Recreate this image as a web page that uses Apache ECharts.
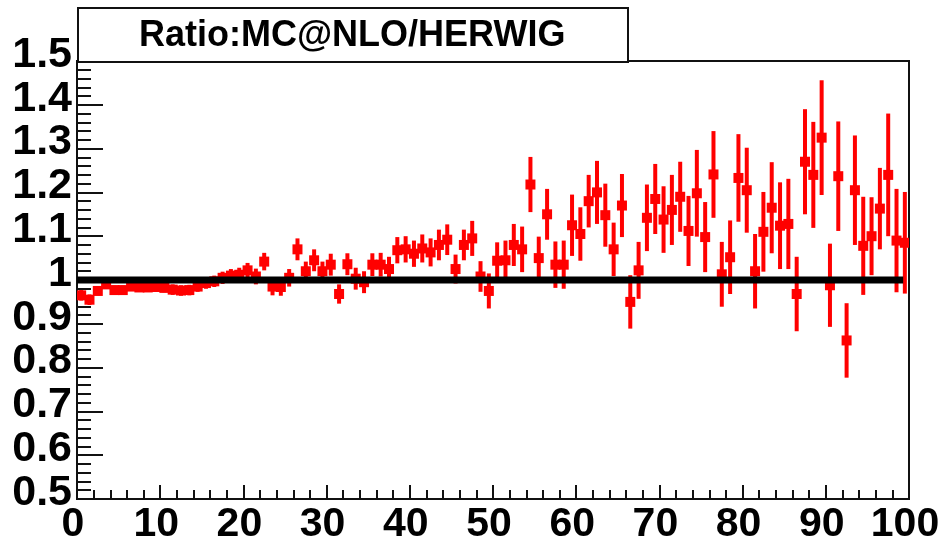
<!DOCTYPE html>
<html>
<head>
<meta charset="utf-8">
<script src="https://cdn.jsdelivr.net/npm/echarts@6/dist/echarts.min.js"></script>
<style>
html,body{margin:0;padding:0;background:#fff;}
#chart{width:942px;height:548px;}
</style>
</head>
<body>
<div id="chart"></div>
<script>
// ---- data ----
const titleText = "Ratio:MC@NLO/HERWIG";
const binCenters = [0.5,1.5,2.5,3.5,4.5,5.5,6.5,7.5,8.5,9.5,10.5,11.5,12.5,13.5,14.5,15.5,16.5,17.5,18.5,19.5,
20.5,21.5,22.5,23.5,24.5,25.5,26.5,27.5,28.5,29.5,30.5,31.5,32.5,33.5,34.5,35.5,36.5,37.5,38.5,39.5,
40.5,41.5,42.5,43.5,44.5,45.5,46.5,47.5,48.5,49.5,50.5,51.5,52.5,53.5,54.5,55.5,56.5,57.5,58.5,59.5,
60.5,61.5,62.5,63.5,64.5,65.5,66.5,67.5,68.5,69.5,70.5,71.5,72.5,73.5,74.5,75.5,76.5,77.5,78.5,79.5,
80.5,81.5,82.5,83.5,84.5,85.5,86.5,87.5,88.5,89.5,90.5,91.5,92.5,93.5,94.5,95.5,96.5,97.5,98.5,99.5];
const ratio = [0.965,0.955,0.975,0.99,0.977,0.977,0.985,0.983,0.983,0.984,0.982,0.978,0.976,0.977,0.985,0.993,0.997,1.005,1.01,1.012,
1.022,1.008,1.042,0.985,0.984,1.005,1.07,1.02,1.045,1.02,1.035,0.968,1.036,1.003,0.995,1.035,1.035,1.025,1.068,1.07,
1.06,1.072,1.063,1.08,1.092,1.025,1.08,1.095,1.008,0.975,1.044,1.045,1.08,1.07,1.218,1.05,1.15,1.035,1.035,1.125,
1.105,1.18,1.2,1.148,1.07,1.17,0.95,1.022,1.142,1.185,1.138,1.16,1.19,1.112,1.198,1.098,1.241,1.013,1.052,1.233,
1.205,1.02,1.11,1.165,1.124,1.128,0.968,1.27,1.24,1.325,0.988,1.237,0.862,1.205,1.078,1.1,1.163,1.24,1.09,1.085];
const ratioErr = [0.012,0.012,0.01,0.01,0.01,0.01,0.01,0.01,0.01,0.01,0.01,0.012,0.012,0.012,0.012,0.013,0.013,0.014,0.015,0.016,
0.017,0.018,0.02,0.02,0.02,0.02,0.025,0.022,0.025,0.022,0.025,0.022,0.025,0.025,0.025,0.026,0.027,0.028,0.03,0.03,
0.03,0.032,0.032,0.035,0.035,0.033,0.035,0.04,0.035,0.04,0.042,0.045,0.048,0.052,0.063,0.049,0.058,0.053,0.055,0.07,
0.061,0.06,0.072,0.072,0.061,0.072,0.061,0.065,0.076,0.08,0.076,0.08,0.08,0.08,0.099,0.08,0.099,0.074,0.084,0.1,
0.097,0.085,0.091,0.104,0.099,0.103,0.085,0.12,0.121,0.131,0.095,0.125,0.085,0.125,0.112,0.089,0.093,0.14,0.118,0.116];
const refLineX = [0, 99.3];
const refLineY = [1, 1];

const labelFont = '"Liberation Sans", Arial, sans-serif';

const points = binCenters.map((x, i) => [x, ratio[i], ratioErr[i]]);
const lineData = refLineX.map((x, i) => [x, refLineY[i]]);

// measure title to centre it in its box
const tw = (function(){const c=document.createElement('canvas').getContext('2d'); c.font='bold 36px "Liberation Sans", Arial, sans-serif'; return c.measureText(titleText).width;})();

const chart = echarts.init(document.getElementById('chart'), null, {renderer: 'canvas'});
chart.setOption({
  animation: false,
  backgroundColor: '#ffffff',
  grid: {left: 77, top: 61, width: 832, height: 438, show: true, borderColor: '#111', borderWidth: 2,
    backgroundColor: 'transparent', containLabel: false, outerBoundsMode: 'none'},
  xAxis: {
    type: 'value', min: 0, max: 100, interval: 10,
    axisLine: {show: true, onZero: false, lineStyle: {color: '#111', width: 2}},
    axisTick: {show: true, inside: true, length: 14, lineStyle: {color: '#111', width: 2}},
    minorTick: {show: true, splitNumber: 5, length: 9, lineStyle: {color: '#111', width: 2}},
    splitLine: {show: false},
    axisLabel: {color: '#000', fontWeight: 'bold', fontFamily: labelFont, fontSize: 41, margin: 4, lineHeight: 44,
      padding: [0, 8, 0, 0], showMaxLabel: true, showMinLabel: true, hideOverlap: false}
  },
  yAxis: {
    type: 'value', min: 0.5, max: 1.5, interval: 0.1,
    axisLine: {show: true, onZero: false, lineStyle: {color: '#111', width: 2}},
    axisTick: {show: true, inside: true, length: 26, lineStyle: {color: '#111', width: 2}},
    minorTick: {show: true, splitNumber: 5, length: 14, lineStyle: {color: '#111', width: 2}},
    splitLine: {show: false},
    axisLabel: {color: '#000', fontWeight: 'bold', fontFamily: labelFont, fontSize: 43, margin: 5,
      verticalAlign: 'bottom', lineHeight: 12,
      hideOverlap: false, formatter: v => String(+v.toFixed(1))}
  },
  graphic: [
    {type: 'rect', left: 77, top: 7, shape: {width: 550, height: 54}, style: {fill: '#fff', stroke: '#111', lineWidth: 2}, z: 10},
    {type: 'text', left: Math.round(77 + 275 - tw / 2), top: 18,
      style: {text: titleText, fontSize: 36, fontWeight: 'bold', fontFamily: '"Liberation Sans", Arial, sans-serif', fill: '#000'}, z: 11}
  ],
  series: [
    {
      type: 'custom',
      name: 'ratio',
      data: points,
      clip: true,
      z: 2,
      renderItem: function (params, api) {
        const x = api.value(0), y = api.value(1), e = api.value(2);
        const c = api.coord([x, y]);
        const top = api.coord([x, y + e]);
        const bot = api.coord([x, y - e]);
        const hw = api.size([0.5, 0])[0];
        const red = '#ff0000';
        return {
          type: 'group',
          children: [
            {type: 'rect', shape: {x: c[0] - 2, y: top[1], width: 4, height: bot[1] - top[1]}, style: {fill: red}},
            {type: 'rect', shape: {x: c[0] - hw, y: c[1] - 2, width: 2 * hw, height: 4}, style: {fill: red}},
            {type: 'rect', shape: {x: c[0] - 5, y: c[1] - 5, width: 10, height: 10}, style: {fill: red}}
          ]
        };
      }
    },
    {
      type: 'line',
      name: 'ref',
      data: lineData,
      symbol: 'none',
      z: 5,
      lineStyle: {color: '#000', width: 7},
      silent: true
    }
  ]
});
</script>
</body>
</html>
